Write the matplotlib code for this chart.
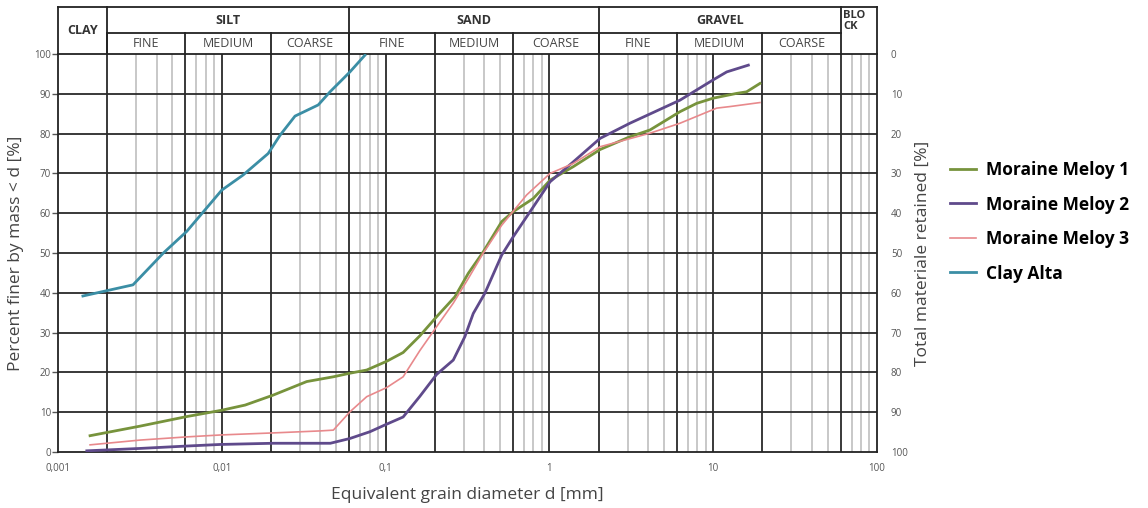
import matplotlib
matplotlib.use('Agg')
import matplotlib.pyplot as plt
import matplotlib.transforms as mtransforms

plt.rcParams['font.family'] = ['Open Sans', 'DejaVu Sans']

# grain size curves: diameter [mm] and percent finer [%]
mm1_d = [0.00157, 0.00317, 0.0061, 0.01, 0.0139, 0.0206, 0.033, 0.048, 0.0606, 0.0767, 0.1016, 0.128,
         0.162, 0.205, 0.265, 0.32, 0.395, 0.512, 0.602, 0.798, 1.01, 1.4, 2.04, 3.1, 4.11, 6.27, 7.93,
         10, 13.9, 16, 19.3]
mm1_p = [4.1, 6.5, 8.9, 10.5, 11.8, 14.3, 17.7, 18.9, 19.8, 20.6, 22.8, 25, 29.2, 34, 39, 44.9, 50.3,
         57.9, 60.4, 63.7, 68.3, 71.7, 76, 79.2, 80.9, 85.5, 87.6, 88.9, 90.1, 90.5, 92.6]

mm2_d = [0.0015, 0.00317, 0.0061, 0.0098, 0.0206, 0.046, 0.0606, 0.0803, 0.1016, 0.128, 0.162, 0.205,
         0.259, 0.305, 0.343, 0.404, 0.512, 0.602, 0.798, 1.01, 1.4, 2.04, 3.1, 6.27, 10, 12.1, 16.4]
mm2_p = [0.3, 0.9, 1.5, 1.9, 2.2, 2.2, 3.4, 5.1, 7, 8.8, 14, 19.5, 23.1, 29, 34.8, 39.9, 49.5, 54.1,
         61.6, 67.9, 72.9, 78.8, 82.6, 88.4, 93.5, 95.5, 97.2]

mm3_d = [0.00157, 0.00317, 0.0061, 0.01, 0.0206, 0.0398, 0.048, 0.0606, 0.0767, 0.1016, 0.128, 0.162,
         0.205, 0.259, 0.32, 0.395, 0.512, 0.727, 1.01, 1.4, 2.04, 4.11, 6.27, 10.5, 12.7, 19.3]
mm3_p = [1.8, 3, 3.8, 4.3, 4.8, 5.3, 5.5, 10.1, 13.9, 16.2, 18.9, 25.5, 31.5, 37.4, 43.6, 50, 57, 64.6,
         70, 72.5, 76.7, 80.1, 82.6, 86.4, 86.8, 87.8]

clay_d = [0.00142, 0.00287, 0.0044, 0.0061, 0.01, 0.0135, 0.0192, 0.0227, 0.028, 0.0388, 0.0458,
          0.0606, 0.0748]
clay_p = [39.2, 42, 50, 55.4, 65.8, 69.6, 75, 79.6, 84.4, 87.2, 90.5, 95.5, 99.7]

# classification limits
major_lines = [0.002, 0.006, 0.01, 0.02, 0.06, 0.1, 0.2, 0.6, 1, 2, 6, 10, 20, 60]
minor_lines = [m * 10 ** k for k in range(-3, 2) for m in (3, 4, 5, 7, 8, 9)]
main_classes = [('CLAY', 0.001, 0.002), ('SILT', 0.002, 0.06), ('SAND', 0.06, 2),
                ('GRAVEL', 2, 60), ('BLOCK', 60, 100)]
sub_classes = [('FINE', 0.002, 0.006), ('MEDIUM', 0.006, 0.02), ('COARSE', 0.02, 0.06),
               ('FINE', 0.06, 0.2), ('MEDIUM', 0.2, 0.6), ('COARSE', 0.6, 2),
               ('FINE', 2, 6), ('MEDIUM', 6, 20), ('COARSE', 20, 60)]
x_ticks = [0.001, 0.01, 0.1, 1, 10, 100]
x_labels = ['0,001', '0,01', '0,1', '1', '10', '100']

fig = plt.figure(figsize=(11.48, 5.08), dpi=100)
ax = fig.add_axes([0.0505, 0.1102, 0.7134, 0.7835])
ax.set_xscale('log')
ax.set_xlim(0.001, 100)
ax.set_ylim(0, 100)

for x in minor_lines:
    ax.axvline(x, color='#c4c4c4', lw=1.3, zorder=1)
for x in major_lines:
    ax.axvline(x, color='#2a2a2a', lw=1.3, zorder=2)
for y in range(10, 100, 10):
    ax.axhline(y, color='#2a2a2a', lw=1.3, zorder=2)

ax.plot(mm1_d, mm1_p, color='#77933c', lw=2.0, label='Moraine Meloy 1', zorder=4)
ax.plot(mm2_d, mm2_p, color='#5f4a8b', lw=2.0, label='Moraine Meloy 2', zorder=4)
ax.plot(mm3_d, mm3_p, color='#e8898c', lw=1.2, label='Moraine Meloy 3', zorder=4)
ax.plot(clay_d, clay_p, color='#3b8ea5', lw=2.0, label='Clay Alta', zorder=4)

for s in ax.spines.values():
    s.set_color('#222222')
    s.set_linewidth(1.3)

ax.set_xticks(x_ticks)
ax.set_xticklabels(x_labels)
ax.xaxis.set_minor_locator(matplotlib.ticker.NullLocator())
ax.tick_params(axis='x', length=0, pad=8, labelsize=7, labelcolor='#555555')
ax.set_yticks(range(0, 101, 10))
ax.tick_params(axis='y', length=4, width=1, color='#555555', labelsize=7, labelcolor='#555555', pad=1)
ax.set_xlabel('Equivalent grain diameter d [mm]', fontsize=12.5, color='#444444', labelpad=9)
ax.set_ylabel('Percent finer by mass < d [%]', fontsize=12.5, color='#444444', labelpad=7)

ax2 = ax.twinx()
ax2.set_ylim(100, 0)
ax2.set_yticks(range(0, 101, 10))
ax2.tick_params(axis='y', length=0, pad=10, labelsize=7, labelcolor='#555555')
for s in ax2.spines.values():
    s.set_visible(False)
ax2.set_ylabel('Total materiale retained [%]', fontsize=12.5, color='#444444', labelpad=5)

# classification header above the plot
trans = mtransforms.blended_transform_factory(ax.transData, ax.transAxes)
top = 1.118
mid = 1.0528
hdr = dict(transform=trans, clip_on=False, color='#222222', lw=1.3)
ax.plot([0.001, 100], [top, top], **hdr)
ax.plot([0.002, 60], [mid, mid], **hdr)
for name, lo, hi in main_classes:
    ax.plot([lo, lo], [1, top], **hdr)
    xc = (lo * hi) ** 0.5
    if name == 'CLAY':
        ax.text(xc, (1 + top) / 2, name, transform=trans, ha='center', va='center',
                fontsize=9, fontweight='bold', color='#333333')
    elif name == 'BLOCK':
        ax.text(lo * 1.04, top - 0.008, 'BLO\nCK', transform=trans, ha='left', va='top',
                fontsize=8, fontweight='bold', color='#333333', linespacing=1.0)
    else:
        ax.text(xc, (mid + top) / 2, name, transform=trans, ha='center', va='center',
                fontsize=9, fontweight='bold', color='#333333')
ax.plot([100, 100], [1, top], **hdr)
for name, lo, hi in sub_classes:
    ax.plot([lo, lo], [1, mid], **hdr)
    ax.text((lo * hi) ** 0.5, (1 + mid) / 2, name, transform=trans, ha='center', va='center',
            fontsize=9, color='#444444')

fig.legend(loc='upper left', bbox_to_anchor=(0.82, 0.70), frameon=False, borderpad=0,
           handlelength=1.5, handletextpad=0.6, labelspacing=0.95,
           prop={'size': 12.5, 'weight': 'bold'})

fig.savefig('out.png', dpi=100)
